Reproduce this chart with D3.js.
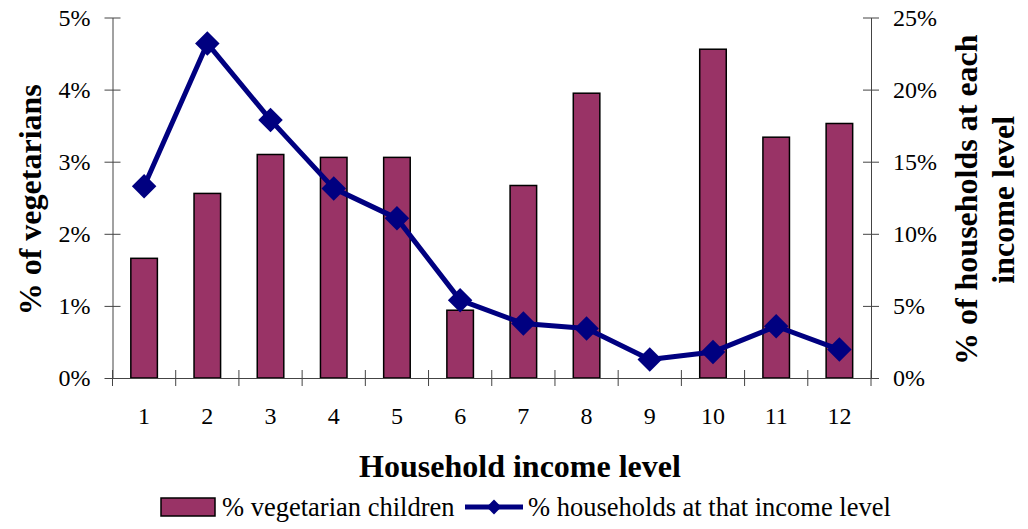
<!DOCTYPE html>
<html>
<head>
<meta charset="utf-8">
<script src="https://cdn.jsdelivr.net/npm/d3@7"></script>
<style>
    body { margin: 0; background: #fff; }
    svg { display: block; font-family: "Liberation Serif", "Times New Roman", serif; }
</style>
</head>
<body>
<div class="chart"></div>
<script>
// income levels 1..12
const incomeLevels = ["1", "2", "3", "4", "5", "6", "7", "8", "9", "10", "11", "12"];
// % vegetarian children (left axis)
const vegetarianPct = [1.66, 2.56, 3.10, 3.06, 3.06, 0.94, 2.67, 3.95, 0, 4.56, 3.34, 3.53];
// % households at that income level (right axis)
const householdsPct = [13.3, 23.2, 17.9, 13.15, 11.07, 5.4, 3.78, 3.43, 1.28, 1.81, 3.59, 1.97];
const leftTicks = [0, 1, 2, 3, 4, 5];
const rightTicks = [0, 5, 10, 15, 20, 25];

const width = 1028;
const height = 529;
const margin = { top: 17.5, right: 157, bottom: 151, left: 112.5 };
const plotW = width - margin.left - margin.right;
const plotH = height - margin.top - margin.bottom;

const svg = d3.select(".chart")
    .append("svg")
    .attr("width", width)
    .attr("height", height);

const g = svg.append("g")
    .attr("transform", `translate(${margin.left},${margin.top})`);

const x = d3.scaleBand()
    .domain(incomeLevels)
    .range([0, plotW]);
const yLeft = d3.scaleLinear().domain([0, 5]).range([plotH, 0]);
const yRight = d3.scaleLinear().domain([0, 25]).range([plotH, 0]);

const barW = x.bandwidth() * 0.42;
const axisColor = "#444";

// bars
g.selectAll("rect.bar")
    .data(vegetarianPct)
    .enter()
    .append("rect")
    .attr("class", "bar")
    .attr("x", (d, i) => x(incomeLevels[i]) + x.bandwidth() / 2 - barW / 2)
    .attr("y", d => yLeft(d))
    .attr("width", barW)
    .attr("height", d => plotH - yLeft(d))
    .attr("fill", "#993366")
    .attr("stroke", "#000")
    .attr("stroke-width", 1.5);

// axes (cross ticks, drawn by hand around d3 axis)
const leftAxis = d3.axisLeft(yLeft)
    .tickValues(leftTicks)
    .tickFormat(d => d + "%")
    .tickSizeInner(8)
    .tickSizeOuter(0)
    .tickPadding(14);
const gl = g.append("g").call(leftAxis);
gl.selectAll(".tick line").attr("x2", 8).attr("x1", -8);

const rightAxis = d3.axisRight(yRight)
    .tickValues(rightTicks)
    .tickFormat(d => d + "%")
    .tickSizeInner(8)
    .tickSizeOuter(0)
    .tickPadding(14);
const gr = g.append("g")
    .attr("transform", `translate(${plotW},0)`)
    .call(rightAxis);
gr.selectAll(".tick line").attr("x1", -8).attr("x2", 8);

const bottomAxis = d3.axisBottom(x)
    .tickSize(0)
    .tickPadding(29);
const gb = g.append("g")
    .attr("transform", `translate(0,${plotH})`)
    .call(bottomAxis);

// category boundary ticks
const boundaries = d3.range(incomeLevels.length + 1).map(i => i * x.step());
gb.selectAll("line.bound")
    .data(boundaries)
    .enter()
    .append("line")
    .attr("class", "bound")
    .attr("x1", d => d)
    .attr("x2", d => d)
    .attr("y1", -8)
    .attr("y2", 8);

[gl, gr, gb].forEach(a => {
    a.selectAll("path.domain, line").attr("stroke", axisColor).attr("stroke-width", 1);
    a.selectAll("text")
        .attr("fill", "#000")
        .style("font-size", "24px")
        .style("font-family", "'Liberation Serif', serif");
});

// line series
const line = d3.line()
    .x((d, i) => x(incomeLevels[i]) + x.bandwidth() / 2)
    .y(d => yRight(d));

g.append("path")
    .datum(householdsPct)
    .attr("d", line)
    .attr("fill", "none")
    .attr("stroke", "#000080")
    .attr("stroke-width", 5)
    .attr("stroke-linejoin", "round");

const diamond = d3.symbol().type(d3.symbolSquare).size(300);
g.selectAll("path.marker")
    .data(householdsPct)
    .enter()
    .append("path")
    .attr("class", "marker")
    .attr("d", diamond)
    .attr("transform", (d, i) =>
        `translate(${x(incomeLevels[i]) + x.bandwidth() / 2},${yRight(d)}) rotate(45)`)
    .attr("fill", "#000080");

// titles
svg.append("text")
    .attr("x", 520)
    .attr("y", 477)
    .attr("text-anchor", "middle")
    .style("font-size", "32px")
    .style("font-weight", "bold")
    .text("Household income level");

svg.append("text")
    .attr("transform", `translate(41,${margin.top + plotH / 2 + 2}) rotate(-90)`)
    .attr("text-anchor", "middle")
    .style("font-size", "32px")
    .style("font-weight", "bold")
    .text("% of vegetarians");

const rightTitle = svg.append("text")
    .attr("transform", `translate(977,${margin.top + plotH / 2 + 2}) rotate(-90)`)
    .attr("text-anchor", "middle")
    .style("font-size", "32px")
    .style("font-weight", "bold");
rightTitle.append("tspan").attr("x", 0).attr("dy", 0).text("% of households at each");
rightTitle.append("tspan").attr("x", 0).attr("dy", 37).text("income level");

// legend
const legend = svg.append("g").attr("transform", "translate(0,507)");
legend.append("rect")
    .attr("x", 161)
    .attr("y", -9)
    .attr("width", 54)
    .attr("height", 18)
    .attr("fill", "#993366")
    .attr("stroke", "#000")
    .attr("stroke-width", 1.5);
legend.append("text")
    .attr("x", 222)
    .attr("y", 9)
    .style("font-size", "26.5px")
    .text("% vegetarian children");
legend.append("line")
    .attr("x1", 465)
    .attr("x2", 523)
    .attr("y1", 0)
    .attr("y2", 0)
    .attr("stroke", "#000080")
    .attr("stroke-width", 5);
legend.append("path")
    .attr("d", d3.symbol().type(d3.symbolSquare).size(110))
    .attr("transform", "translate(494,0) rotate(45)")
    .attr("fill", "#000080");
legend.append("text")
    .attr("x", 528)
    .attr("y", 9)
    .style("font-size", "26.5px")
    .text("% households at that income level");
</script>
</body>
</html>
